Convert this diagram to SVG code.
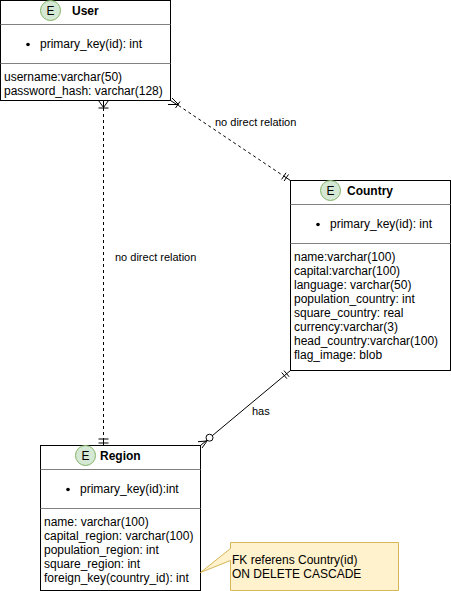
<svg xmlns="http://www.w3.org/2000/svg" width="451" height="591" viewBox="0 0 451 591">
<style>
text{font-family:"Liberation Sans",Arial,sans-serif;font-size:12px;fill:#000}
.box{fill:#fff;stroke:#000;stroke-width:1}
.div{stroke:#808080;stroke-width:1;fill:none}
.e{fill:#d5e8d4;stroke:#82b366;stroke-width:1}
.t{font-weight:bold}
.c{stroke:#000;stroke-width:1;fill:none}
.d{stroke-dasharray:3 3}
.l{font-size:11px}
</style>
<g id="connectors">
<path class="c d" d="M103.500 108V439"/>
<path class="c" d="M103.500 100.500V108M98.500 100.500L103.500 107.500L108.500 100.500M98.500 108H108.500M103.500 439V445.500M98.500 439H108.500M98.500 443H108.500"/>
<path class="c d" d="M178.500 105.500L283.800 176.100"/>
<path class="c" d="M170.500 100.500L178.500 105.500M172 98L178.500 104.500M168 104.500H178.500M180 101.500L175.500 108M283.800 176.100L290.500 180.500M288.500 174.400L284.100 181M286 172.800L281.600 179.400"/>
<path class="c" d="M290.500 370.500L200.500 445.500"/>
<path class="c" d="M198 441.700L207 441M202 448L207 441M284 370.600L289.200 376.800M281.700 372.500L286.900 378.700"/>
<circle cx="209.500" cy="437.700" r="3.500" fill="#fff" stroke="#000"/>
<text class="l" x="215" y="126">no direct relation</text>
<text class="l" x="115" y="261">no direct relation</text>
<text class="l" x="252" y="415">has</text>
</g>
<g id="user">
<rect class="box" x="0.500" y="0.500" width="170" height="100"/>
<path class="div" d="M0.500 24.500H170.500M0.500 63.500H170.500"/>
<circle class="e" cx="50.500" cy="10.500" r="10"/>
<text x="50.500" y="15" text-anchor="middle">E</text>
<text class="t" x="72" y="15">User</text>
<circle cx="28" cy="44.500" r="1.800"/>
<text x="40" y="48">primary_key(id): int</text>
<text x="4" y="81">username:varchar(50)</text>
<text x="4" y="95">password_hash: varchar(128)</text>
</g>
<g id="country">
<rect class="box" x="290.500" y="180.500" width="160" height="190"/>
<path class="div" d="M290.500 204.500H450.500M290.500 243.500H450.500"/>
<circle class="e" cx="330.500" cy="190.500" r="10"/>
<text x="330.500" y="195" text-anchor="middle">E</text>
<text class="t" x="347" y="195">Country</text>
<circle cx="318" cy="224.500" r="1.800"/>
<text x="330" y="228">primary_key(id): int</text>
<text x="294" y="261">name:varchar(100)</text>
<text x="294" y="275">capital:varchar(100)</text>
<text x="294" y="289">language: varchar(50)</text>
<text x="294" y="303">population_country: int</text>
<text x="294" y="317">square_country: real</text>
<text x="294" y="331">currency:varchar(3)</text>
<text x="294" y="345">head_country:varchar(100)</text>
<text x="294" y="359">flag_image: blob</text>
</g>
<g id="region">
<rect class="box" x="40.500" y="445.500" width="160" height="145"/>
<path class="div" d="M40.500 469.500H200.500M40.500 508.500H200.500"/>
<circle class="e" cx="85.500" cy="455.500" r="10"/>
<text x="85.500" y="460" text-anchor="middle">E</text>
<text class="t" x="100" y="460">Region</text>
<circle cx="68" cy="489.500" r="1.800"/>
<text x="80" y="493">primary_key(id):int</text>
<text x="44" y="526">name: varchar(100)</text>
<text x="44" y="540">capital_region: varchar(100)</text>
<text x="44" y="554">population_region: int</text>
<text x="44" y="568">square_region: int</text>
<text x="44" y="582">foreign_key(country_id): int</text>
</g>
<g id="note">
<path d="M230.500 542.500H398.500V590.500H230.500V560.500L200.500 572.500L230.500 548.500Z" fill="#fff2cc" stroke="#d6b656"/>
<text x="232" y="564">FK referens Country(id)</text>
<text x="232" y="578">ON DELETE CASCADE</text>
</g>
</svg>
